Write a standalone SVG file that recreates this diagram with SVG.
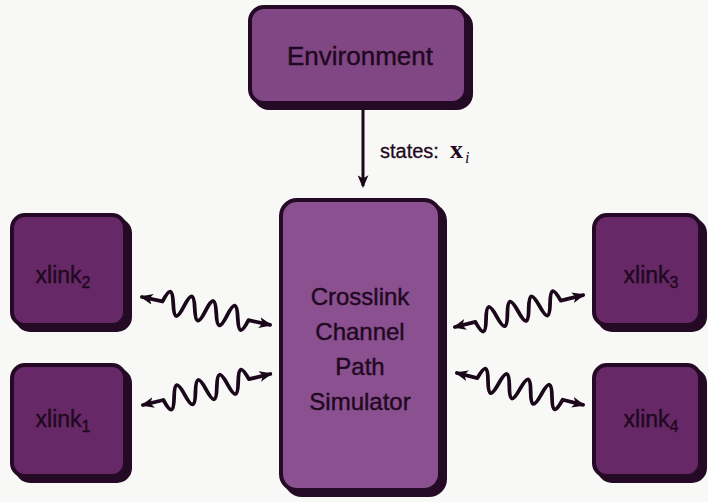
<svg xmlns="http://www.w3.org/2000/svg" width="708" height="502" viewBox="0 0 708 502">
<style>
.bg{fill:#f8f8f6}
.sh{fill:#240a24;stroke:#240a24;stroke-width:4}
.box{stroke:#240a24;stroke-width:4}
.env{fill:#814785}
.sim{fill:#8b5090}
.xl{fill:#672868}
.t{font-family:"Liberation Sans","DejaVu Sans",sans-serif;fill:#1e0920;stroke:#1e0920;stroke-width:0.4;text-anchor:middle}
.w{fill:none;stroke:#1a081a;stroke-width:3.8;stroke-linejoin:round;stroke-linecap:round}
</style>
<defs>
<marker id="ah" viewBox="0 0 12 10" refX="10" refY="5" markerWidth="13" markerHeight="11" markerUnits="userSpaceOnUse" orient="auto-start-reverse">
<path d="M0,0 L12,5 L0,10 L3,5 Z" fill="#1a081a"/>
</marker>
</defs>
<rect class="bg" x="0" y="0" width="708" height="502"/>

<g id="environment">
<rect class="sh" x="255" y="12" width="216" height="96" rx="14"/>
<rect class="box env" x="250" y="7" width="216" height="96" rx="14"/>
<text class="t" x="360" y="65" font-size="26">Environment</text>
</g>

<g id="simulator">
<rect class="sh" x="286" y="205" width="159" height="290" rx="16"/>
<rect class="box sim" x="281" y="200" width="159" height="290" rx="16"/>
<text class="t" x="360" y="305" font-size="24">Crosslink</text>
<text class="t" x="360" y="340" font-size="24">Channel</text>
<text class="t" x="360" y="375" font-size="24">Path</text>
<text class="t" x="360" y="410" font-size="24">Simulator</text>
</g>

<g id="xlink2">
<rect class="sh" x="17" y="220" width="113" height="110" rx="13"/>
<rect class="box xl" x="12" y="215" width="113" height="110" rx="13"/>
<text class="t" x="63" y="283" font-size="23">xlink<tspan font-size="16" dy="5">2</tspan></text>
</g>

<g id="xlink1">
<rect class="sh" x="17" y="370" width="113" height="111" rx="13"/>
<rect class="box xl" x="12" y="365" width="113" height="111" rx="13"/>
<text class="t" x="63" y="427" font-size="23">xlink<tspan font-size="16" dy="5">1</tspan></text>
</g>

<g id="xlink3">
<rect class="sh" x="599" y="220" width="106" height="110" rx="13"/>
<rect class="box xl" x="594" y="215" width="106" height="110" rx="13"/>
<text class="t" x="651" y="283" font-size="23">xlink<tspan font-size="16" dy="5">3</tspan></text>
</g>

<g id="xlink4">
<rect class="sh" x="599" y="370" width="106" height="111" rx="13"/>
<rect class="box xl" x="594" y="365" width="106" height="111" rx="13"/>
<text class="t" x="651" y="427" font-size="23">xlink<tspan font-size="16" dy="5">4</tspan></text>
</g>

<g id="connectors">
<line x1="363" y1="110" x2="363" y2="186" stroke="#1a081a" stroke-width="3" marker-end="url(#ah)"/>
<text x="380" y="158" font-family="Liberation Sans, DejaVu Sans, sans-serif" font-size="20" fill="#1e0920" stroke="#1e0920" stroke-width="0.3">states:</text>
<text x="450" y="158" font-family="Liberation Serif, DejaVu Serif, serif" font-size="26" font-weight="bold" fill="#1e0920">x</text>
<text x="465" y="163" font-family="Liberation Serif, DejaVu Serif, serif" font-size="16" font-style="italic" fill="#1e0920">i</text>

<path class="w" transform="translate(142,297) rotate(12.3)" marker-start="url(#ah)" marker-end="url(#ah)" d="M0,0 H21 c4,-15 7,-15 11,0 s7,15 11,0 s7,-15 11,0 s7,15 11,0 s7,-15 11,0 s7,15 11,0 s7,-15 11,0 s7,15 11,0 H131"/>
<path class="w" transform="translate(143,405) rotate(-13.7)" marker-start="url(#ah)" marker-end="url(#ah)" d="M0,0 H21 c4,15 7,15 11,0 s7,-15 11,0 s7,15 11,0 s7,-15 11,0 s7,15 11,0 s7,-15 11,0 s7,15 11,0 s7,-15 11,0 H131"/>
<path class="w" transform="translate(455,327) rotate(-14)" marker-start="url(#ah)" marker-end="url(#ah)" d="M0,0 H21 c4,15 7,15 11,0 s7,-15 11,0 s7,15 11,0 s7,-15 11,0 s7,15 11,0 s7,-15 11,0 s7,15 11,0 s7,-15 11,0 H132"/>
<path class="w" transform="translate(457,373) rotate(14.2)" marker-start="url(#ah)" marker-end="url(#ah)" d="M0,0 H21 c4,-15 7,-15 11,0 s7,15 11,0 s7,-15 11,0 s7,15 11,0 s7,-15 11,0 s7,15 11,0 s7,-15 11,0 s7,15 11,0 H130"/>
</g>
</svg>
